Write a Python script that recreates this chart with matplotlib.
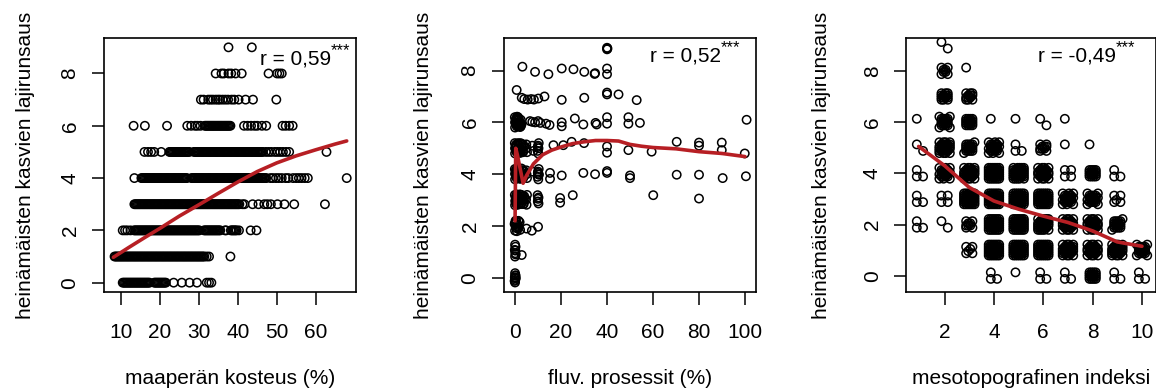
import numpy as np
import matplotlib.pyplot as plt

plt.rcParams['font.family'] = ['Liberation Sans', 'DejaVu Sans']
plt.rcParams['font.size'] = 15

# --- paneeli 1: maaperän kosteus (%) vs. lajirunsaus, yksi lista per lajimäärä ---
moist_by_rich = {
    0: [10.4, 10.7, 11.0, 11.3, 11.6, 11.9, 12.2, 12.5, 12.8, 13.1, 13.4, 13.7, 14.0, 14.3,
        14.6, 14.9, 15.2, 15.5, 15.8, 16.1, 16.4, 16.7, 17.0, 17.3, 18.5, 18.8, 19.1, 19.4,
        19.7, 20.0, 20.3, 20.6, 20.9, 21.2, 21.5, 23.5, 25.6, 27.6, 29.5, 32.0, 32.6, 33.2],
    1: [8.3, 8.6, 8.9, 9.2, 9.5, 9.8, 10.1, 10.4, 10.7, 11.0, 11.3, 11.6, 11.9, 12.2, 12.5,
        12.8, 13.1, 13.4, 13.7, 14.0, 14.3, 14.6, 14.9, 15.2, 15.5, 15.8, 16.1, 16.4, 16.7,
        17.0, 17.3, 17.6, 17.9, 18.2, 18.5, 18.8, 19.1, 19.4, 19.7, 20.0, 20.3, 20.6, 20.9,
        21.2, 21.5, 21.8, 22.1, 22.4, 22.7, 23.0, 23.3, 23.6, 23.9, 24.2, 24.5, 24.8, 25.1,
        25.4, 25.7, 26.0, 26.3, 26.6, 26.9, 27.2, 27.5, 27.8, 28.1, 28.4, 28.7, 29.0, 29.3,
        29.6, 29.9, 30.2, 30.5, 30.8, 31.1, 31.4, 32.0, 32.6, 38.1],
    2: [10.4, 11.0, 11.6, 12.4, 13.3, 13.6, 13.9, 14.2, 14.5, 14.8, 15.1, 15.4, 15.7, 16.0,
        16.3, 16.6, 16.9, 17.2, 17.5, 17.8, 18.1, 18.4, 18.7, 19.0, 19.3, 19.6, 19.9, 20.2,
        20.5, 20.8, 21.1, 21.4, 21.7, 22.0, 22.3, 22.6, 22.9, 23.2, 23.5, 23.8, 24.1, 24.4,
        24.7, 25.0, 25.3, 25.6, 25.9, 26.2, 26.5, 26.8, 27.1, 27.4, 27.7, 28.0, 28.3, 28.6,
        28.9, 29.2, 29.5, 29.8, 30.1, 31.3, 31.6, 31.9, 32.2, 32.5, 32.8, 33.1, 33.4, 33.7,
        34.0, 34.3, 34.6, 34.9, 35.2, 35.5, 36.7, 37.0, 38.2, 38.5, 38.8, 39.1, 39.4, 39.7,
        40.3, 43.3, 44.8],
    3: [13.4, 13.7, 14.0, 14.3, 14.6, 14.9, 15.2, 15.5, 15.8, 16.1, 16.4, 16.7, 17.0, 17.3,
        17.6, 17.9, 18.2, 18.5, 18.8, 19.1, 19.4, 19.7, 20.0, 20.3, 20.6, 20.9, 21.2, 21.5,
        21.8, 22.1, 22.4, 22.7, 23.0, 23.3, 23.6, 23.9, 24.2, 24.5, 24.8, 25.1, 25.4, 25.7,
        26.0, 26.3, 26.6, 26.9, 27.2, 27.5, 27.8, 28.1, 28.4, 28.7, 29.0, 29.3, 29.6, 29.9,
        30.2, 30.5, 30.8, 31.1, 31.4, 31.7, 32.0, 32.3, 32.6, 32.9, 33.2, 33.5, 33.8, 34.1,
        34.4, 34.7, 35.0, 35.3, 35.6, 35.9, 36.2, 36.5, 36.8, 37.1, 37.4, 37.7, 38.0, 38.3,
        38.6, 38.9, 39.2, 39.5, 39.8, 40.1, 40.4, 41.2, 41.7, 43.8, 45.3, 46.8, 47.6, 48.5,
        50.2, 52.0, 54.5, 62.4],
    4: [13.4, 15.2, 15.5, 15.8, 16.1, 16.4, 16.7, 17.0, 17.3, 17.6, 17.9, 18.2, 18.5, 18.8,
        19.1, 19.4, 19.7, 20.0, 20.3, 20.6, 20.9, 21.2, 21.5, 21.8, 22.1, 22.4, 22.7, 23.0,
        23.3, 23.6, 23.9, 24.2, 24.5, 24.8, 25.1, 25.4, 25.7, 26.0, 26.3, 26.6, 26.9, 28.1,
        28.4, 28.7, 29.0, 29.3, 29.6, 29.9, 30.2, 30.5, 30.8, 31.1, 31.4, 31.7, 32.0, 32.3,
        32.6, 32.9, 33.2, 33.5, 33.8, 34.1, 34.4, 34.7, 35.0, 35.3, 35.6, 35.9, 36.2, 36.5,
        36.8, 37.1, 37.4, 37.7, 38.0, 38.3, 38.6, 38.9, 39.2, 39.5, 39.8, 40.1, 40.4, 40.7,
        41.0, 41.3, 41.6, 41.9, 42.2, 42.5, 42.8, 43.1, 43.4, 43.7, 44.0, 44.3, 44.6, 44.9,
        45.2, 45.5, 45.8, 46.1, 46.4, 46.7, 47.0, 47.3, 48.4, 49.0, 49.8, 50.5, 51.3, 52.3,
        53.0, 54.2, 55.0, 55.7, 56.4, 57.2, 58.0, 68.0],
    5: [16.0, 16.9, 17.7, 18.5, 20.3, 22.4, 22.7, 23.0, 23.3, 23.6, 23.9, 24.2, 24.5, 24.8,
        25.1, 25.4, 25.7, 26.0, 26.3, 26.6, 26.9, 27.2, 27.5, 28.7, 29.0, 29.3, 29.6, 29.9,
        30.2, 30.5, 30.8, 31.1, 31.4, 31.7, 32.0, 32.3, 32.6, 32.9, 33.2, 33.5, 33.8, 34.1,
        34.4, 34.7, 35.0, 35.3, 35.6, 35.9, 36.2, 36.5, 36.8, 37.1, 37.4, 37.7, 38.0, 38.3,
        38.6, 38.9, 39.2, 39.5, 39.8, 40.1, 40.4, 40.7, 41.0, 41.3, 41.6, 41.9, 42.2, 42.5,
        42.8, 43.1, 43.4, 43.7, 44.0, 44.3, 44.6, 44.9, 45.2, 45.5, 45.8, 46.1, 46.4, 47.2,
        47.9, 48.6, 49.5, 50.2, 50.9, 51.6, 52.4, 53.2, 62.8],
    6: [13.2, 16.1, 21.8, 27.0, 28.0, 29.0, 29.6, 30.4, 31.5, 31.8, 32.1, 32.4, 32.7, 33.0,
        33.3, 33.6, 33.9, 34.2, 34.5, 34.8, 35.1, 35.4, 35.7, 36.0, 36.3, 36.6, 36.9, 37.2,
        37.5, 37.8, 38.1, 41.6, 42.5, 43.4, 44.3, 45.0, 46.2, 47.3, 51.5, 52.3, 53.2, 54.1],
    7: [30.5, 31.2, 32.4, 33.0, 33.6, 34.3, 34.9, 35.4, 36.1, 36.8, 37.5, 38.4, 39.1, 40.2,
        42.0, 43.9, 49.9],
    8: [34.3, 35.8, 36.4, 37.6, 38.3, 39.4, 41.0, 47.9, 50.1, 50.7, 51.3],
    9: [37.6, 43.6],
}
moist_smooth_x = [8, 12, 16, 20, 25, 30, 35, 40, 45, 50, 55, 60, 65, 68]
moist_smooth_y = [0.97, 1.35, 1.72, 2.08, 2.55, 2.98, 3.42, 3.85, 4.25, 4.58, 4.85, 5.08, 5.3, 5.42]

# --- paneeli 2: fluviaaliset prosessit (%), pisteet jitteröityinä ---
fluv_points = [
    (0.0, -0.18), (0.1, -0.08), (-0.1, 0.02), (0.2, 0.1), (0.0, 0.18), (-0.2, -0.12), (0.3, 0.0),
    (0.1, 0.08), (0.0, 0.0), (0.2, -0.02),
    (0.0, 0.82), (0.1, 0.95), (-0.1, 1.08), (0.2, 1.2), (0.0, 1.28), (0.3, 0.9), (0.1, 1.05),
    (2.9, 0.88),
    (0.0, 1.82), (0.3, 1.95), (-0.2, 2.08), (0.5, 2.2), (1.0, 1.9), (1.2, 2.05), (2.0, 2.15),
    (2.2, 1.85), (0.1, 2.12), (1.5, 2.2), (0.8, 1.8), (0.6, 2.0), (1.6, 1.95), (0.2, 2.2),
    (5.0, 1.9), (7.3, 1.82), (10.0, 1.97),
    (0.0, 2.8), (0.2, 3.0), (-0.1, 3.2), (0.5, 2.9), (1.0, 3.1), (1.2, 2.82), (2.0, 3.0),
    (2.1, 3.22), (3.0, 2.9), (3.2, 3.12), (0.3, 3.1), (1.8, 2.85), (0.7, 3.22), (2.6, 3.05),
    (0.5, 3.15), (1.5, 3.0), (2.5, 2.85), (3.5, 3.0), (4.0, 3.15), (1.0, 2.95), (2.8, 3.2),
    (0.1, 2.95), (3.8, 2.85), (4.3, 3.05), (0.5, 2.85), (1.5, 3.15), (2.5, 3.15), (3.5, 2.85),
    (1.5, 2.85), (3.5, 3.15),
    (5.0, 2.82), (4.8, 3.02), (5.2, 3.2), (9.8, 3.19), (10.2, 2.87), (10.0, 3.05), (10.2, 3.1),
    (9.9, 2.95), (19.6, 3.08), (19.6, 2.9), (25.1, 3.19), (60.1, 3.19), (80.0, 3.06),
    (0.0, 3.8), (0.2, 4.0), (-0.1, 4.2), (0.6, 4.1), (1.0, 3.9), (1.3, 4.2), (2.0, 4.0),
    (2.2, 3.82), (3.0, 4.15), (0.4, 3.9), (1.6, 4.05), (2.7, 3.9), (0.8, 4.22), (0.3, 4.15),
    (1.2, 3.95), (2.4, 4.1), (3.4, 4.0), (0.7, 3.85), (1.9, 3.85), (2.8, 4.22), (3.8, 3.9),
    (4.2, 4.1), (0.0, 4.02), (0.5, 4.15), (1.5, 3.85), (2.5, 3.85), (3.5, 4.15), (1.5, 4.15),
    (3.5, 3.85),
    (5.0, 4.0), (5.2, 3.85), (4.9, 4.15), (7.5, 4.1), (9.8, 3.9),
    (10.0, 4.1), (10.3, 4.2), (10.1, 3.8), (10.4, 3.98), (10.1, 4.0), (9.9, 4.05),
    (15.2, 4.05), (15.2, 3.82), (20.3, 3.95), (29.7, 4.05), (34.8, 4.0), (40.0, 4.12),
    (40.0, 4.05), (50.0, 3.95), (50.0, 3.85), (70.3, 3.98), (80.0, 3.98), (90.3, 3.85),
    (100.4, 3.92),
    (0.0, 4.8), (0.2, 5.0), (-0.1, 5.2), (0.6, 5.1), (1.0, 4.9), (1.3, 5.2), (2.0, 5.0),
    (2.2, 4.82), (3.0, 5.15), (0.4, 4.9), (1.7, 5.12), (2.6, 4.95), (0.3, 5.1), (1.2, 4.95),
    (2.4, 5.2), (3.4, 4.9), (0.7, 4.85), (1.9, 4.85), (2.8, 5.05), (0.0, 5.0), (1.5, 5.0),
    (3.8, 5.05), (0.5, 5.15), (1.5, 4.85), (2.5, 4.85), (3.5, 5.15), (1.5, 5.15), (3.5, 4.85),
    (5.0, 5.0), (5.2, 4.85), (4.9, 5.15), (7.5, 5.1), (8.0, 4.9), (9.8, 4.9),
    (10.0, 5.1), (10.3, 5.2), (10.1, 4.8), (10.2, 5.0), (9.9, 5.05), (16.7, 5.12),
    (21.0, 5.12), (24.6, 5.25), (30.0, 5.2), (40.0, 5.07), (40.0, 4.83), (49.3, 4.93),
    (59.4, 4.87), (70.3, 5.25), (80.0, 5.22), (80.0, 5.1), (89.9, 5.22), (89.9, 4.93),
    (99.9, 4.8),
    (0.0, 5.8), (0.2, 6.0), (-0.1, 6.2), (0.6, 6.1), (1.0, 5.9), (1.3, 6.2), (2.0, 6.0),
    (2.2, 5.82), (0.4, 5.95), (1.7, 6.1), (0.9, 6.22), (2.5, 6.1), (0.3, 6.1), (1.2, 5.95),
    (2.4, 5.95), (0.7, 5.85), (1.9, 5.85), (1.5, 6.15), (0.0, 6.0), (2.8, 5.92),
    (0.5, 6.15), (1.5, 5.85), (2.5, 5.85),
    (6.5, 6.05), (7.5, 6.02), (8.7, 6.0), (10.0, 6.05), (11.0, 5.98), (13.5, 5.95),
    (15.0, 5.9), (20.3, 6.0), (20.3, 5.85), (26.0, 6.15), (29.7, 5.92), (35.0, 5.98),
    (35.5, 5.92), (40.0, 6.2), (40.0, 5.95), (49.3, 6.2), (49.3, 5.95), (54.3, 5.98),
    (100.7, 6.1),
    (0.7, 7.25), (2.9, 6.95), (4.0, 6.9), (5.5, 6.88), (7.0, 6.9), (8.2, 6.88), (10.1, 6.92),
    (12.8, 7.0), (20.3, 6.87), (30.1, 6.95), (40.0, 7.15), (40.0, 7.08), (45.0, 7.08),
    (52.9, 6.86),
    (3.2, 8.15), (8.7, 7.95), (14.5, 7.86), (20.3, 8.08), (25.4, 8.05), (30.1, 7.95),
    (34.8, 7.9), (34.6, 7.87), (40.0, 8.08), (40.0, 7.86), (40.0, 8.82), (40.0, 8.88),
    (40.2, 8.85),
]
fluv_smooth_x = [0.0, 0.3, 1.0, 3.5, 5.0, 8.0, 12.0, 16.0, 20.0, 25.0, 30.0, 35.0, 40.0, 45.0,
                 50.0, 55.0, 60.0, 70.0, 80.0, 90.0, 100.0]
fluv_smooth_y = [2.2, 5.0, 4.75, 3.65, 3.95, 4.4, 4.75, 4.93, 5.05, 5.18, 5.25, 5.3, 5.3, 5.28,
                 5.15, 5.08, 5.03, 4.98, 4.87, 4.8, 4.68]

# --- paneeli 3: mesotopografinen indeksi 1-10, havaintojen lukumäärä ruuduittain ---
meso_index = [1, 2, 3, 4, 5, 6, 7, 8, 9, 10]
meso_counts = [  # rivit: lajirunsaus 0..9, sarakkeet: indeksi 1..10
    [0, 0, 0, 3, 1, 3, 3, 16, 3, 3],
    [0, 0, 6, 36, 36, 36, 30, 28, 30, 20],
    [3, 2, 9, 36, 36, 32, 28, 28, 18, 0],
    [3, 4, 36, 36, 36, 36, 24, 22, 5, 0],
    [3, 24, 30, 36, 34, 28, 4, 16, 3, 0],
    [2, 30, 18, 24, 3, 10, 1, 1, 0, 0],
    [1, 20, 16, 1, 1, 2, 1, 0, 0, 0],
    [0, 14, 12, 0, 0, 0, 0, 0, 0, 0],
    [0, 8, 1, 0, 0, 0, 0, 0, 0, 0],
    [0, 2, 0, 0, 0, 0, 0, 0, 0, 0],
]
# jitter-siirrot (x, y) päällekkäisille havainnoille: ensin sisäosa, sitten reunat
jitter_dx = [-0.125, 0.13, -0.125, 0.13, -0.04, 0.045, -0.04, 0.045, -0.125, 0.13, -0.04,
             0.045, -0.125, 0.13, 0.045, -0.04,
             -0.21, 0.215, -0.21, 0.215, -0.21, 0.215, -0.04, 0.045, -0.21, 0.215, 0.045,
             -0.04, -0.21, 0.215, -0.125, 0.13, -0.21, 0.215, -0.125, 0.13]
jitter_dy = [0.13, -0.125, -0.125, 0.13, -0.04, 0.045, 0.045, -0.04, -0.04, 0.045, -0.125,
             0.13, 0.045, -0.04, -0.125, 0.13,
             -0.21, 0.215, 0.215, -0.21, -0.04, 0.045, -0.21, 0.215, 0.045, -0.04, -0.21,
             0.215, -0.125, 0.13, -0.21, 0.215, 0.13, -0.125, 0.215, -0.21]
meso_smooth_x = [0.95, 2, 3, 4, 5, 6, 7, 8, 9, 10]
meso_smooth_y = [5.05, 4.3, 3.45, 2.92, 2.6, 2.33, 2.08, 1.75, 1.32, 1.15]

r_labels = ['r = 0,59', 'r = 0,52', 'r = -0,49']
x_labels = ['maaperän kosteus (%)', 'fluv. prosessit (%)', 'mesotopografinen indeksi']
y_label = 'heinämäisten kasvien lajirunsaus'

# koordinaattien muunto pisteiksi
p1x = [x for r in moist_by_rich for x in moist_by_rich[r]]
p1y = [r for r in moist_by_rich for x in moist_by_rich[r]]
p2x = [p[0] for p in fluv_points]
p2y = [p[1] for p in fluv_points]
p3x, p3y = [], []
for rich, row in enumerate(meso_counts):
    for i, n in enumerate(row):
        for k in range(n):
            p3x.append(meso_index[i] + jitter_dx[k])
            p3y.append(rich + jitter_dy[k])

line_red = '#b71f24'

fig = plt.figure(figsize=(11.56, 3.91), dpi=100)
axes = [fig.add_axes([0.090, 0.253, 0.218, 0.650]),
        fig.add_axes([0.436, 0.253, 0.218, 0.650]),
        fig.add_axes([0.784, 0.253, 0.216, 0.650])]

data = [(p1x, p1y, moist_smooth_x, moist_smooth_y),
        (p2x, p2y, fluv_smooth_x, fluv_smooth_y),
        (p3x, p3y, meso_smooth_x, meso_smooth_y)]
for ax, (px, py, lx, ly) in zip(axes, data):
    ax.scatter(px, py, s=36, facecolors='none', edgecolors='black', linewidths=1.1, zorder=2)
    ax.plot(lx, ly, color=line_red, lw=2.6, zorder=3, solid_capstyle='round')

axes[0].set_xlim(5.6, 70.4)
axes[0].set_ylim(-0.36, 9.36)
axes[0].set_xticks([10, 20, 30, 40, 50, 60])
axes[1].set_xlim(-4.8, 104.8)
axes[1].set_ylim(-0.55, 9.26)
axes[1].set_xticks([0, 20, 40, 60, 80, 100])
axes[2].set_xlim(0.45, 10.57)
axes[2].set_ylim(-0.64, 9.29)
axes[2].set_xticks([2, 4, 6, 8, 10])

r_pos = [(0.619, 0.894), (0.579, 0.907), (0.526, 0.907)]
ylab_x = [-0.313, -0.321, -0.34]

for i, ax in enumerate(axes):
    ax.set_yticks([0, 2, 4, 6, 8])
    for sp in ax.spines.values():
        sp.set_linewidth(1.2)
    ax.tick_params(direction='out', length=9, width=1.1)
    ax.tick_params(axis='x', pad=13)
    ax.tick_params(axis='y', pad=8.6)
    for lab in ax.get_yticklabels():
        lab.set_rotation(90)
        lab.set_va('center')
    ax.set_xlabel(x_labels[i])
    ax.xaxis.set_label_coords(0.5, -0.339)
    ax.xaxis.label.set_va('center')
    ax.set_ylabel(y_label)
    ax.yaxis.set_label_coords(ylab_x[i], 0.5)
    ax.yaxis.label.set_va('center')

    t = ax.text(r_pos[i][0], r_pos[i][1], r_labels[i], transform=ax.transAxes,
                ha='left', va='baseline', zorder=4)
    ax.annotate('***', xy=(1.0, 0.55), xycoords=t, ha='left', va='bottom',
                fontsize=12, zorder=4)

fig.savefig('out.png', dpi=100)
